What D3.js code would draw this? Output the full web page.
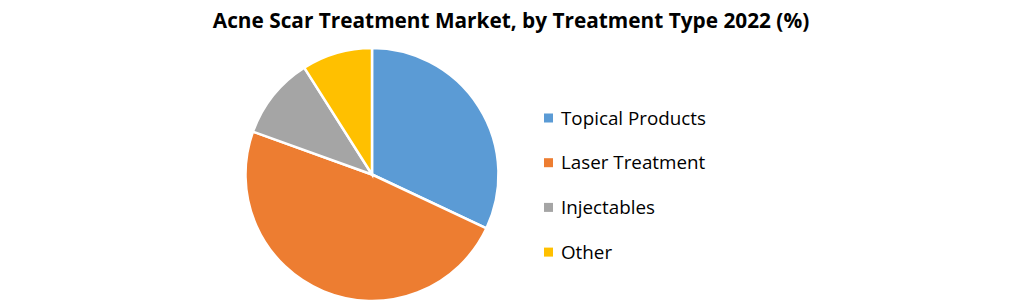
<!DOCTYPE html>
<html>
<head>
<meta charset="utf-8">
<script src="https://cdn.jsdelivr.net/npm/d3@7"></script>
<style>
  body { margin: 0; background: #fff; }
  text { font-family: "Open Sans", "Noto Sans", sans-serif; }
</style>
</head>
<body>
<div id="vis"></div>
<script>
const WIDTH = 1021;
const HEIGHT = 304;

// chart data
const categories = ["Topical Products", "Laser Treatment", "Injectables", "Other"];
const shares = [32, 48.5, 10.5, 9];
const colors = ["#5B9BD5", "#ED7D31", "#A5A5A5", "#FFC000"];
const TITLE = "Acne Scar Treatment Market, by Treatment Type 2022 (%)";

const svg = d3.select("#vis")
  .append("svg")
    .attr("width", WIDTH)
    .attr("height", HEIGHT);

// title, squeezed to the width it has in the original
const title = svg.append("text")
  .attr("x", 511)
  .attr("y", 28)
  .attr("text-anchor", "middle")
  .attr("font-weight", "bold")
  .attr("font-size", 20)
  .attr("fill", "#000")
  .text(TITLE);
const tw = title.node().getComputedTextLength();
title.attr("font-size", 20 * 597 / tw);

// pie
const pie = d3.pie().sort(null).value(d => d);
const arc = d3.arc().innerRadius(0).outerRadius(126.5);

const g = svg.append("g")
  .attr("transform", "translate(372,174.5)");

g.selectAll("path")
  .data(pie(shares))
  .enter()
  .append("path")
    .attr("d", arc)
    .attr("fill", (d, i) => colors[i])
    .attr("stroke", "#fff")
    .attr("stroke-width", 2.5);

// legend
const legend = svg.append("g")
  .attr("transform", "translate(544,118)");

const rows = legend.selectAll("g")
  .data(categories)
  .enter()
  .append("g")
    .attr("transform", (d, i) => "translate(0," + (i * 44.7) + ")");

rows.append("rect")
  .attr("x", 0)
  .attr("y", -4.5)
  .attr("width", 9)
  .attr("height", 9)
  .attr("fill", (d, i) => colors[i]);

const labels = rows.append("text")
  .attr("x", 17)
  .attr("y", 0)
  .attr("dy", "0.35em")
  .attr("font-size", 18)
  .attr("fill", "#000")
  .text(d => d);

const lw = labels.nodes()[0].getComputedTextLength();
labels.attr("font-size", 18 * 145 / lw);
</script>
</body>
</html>
